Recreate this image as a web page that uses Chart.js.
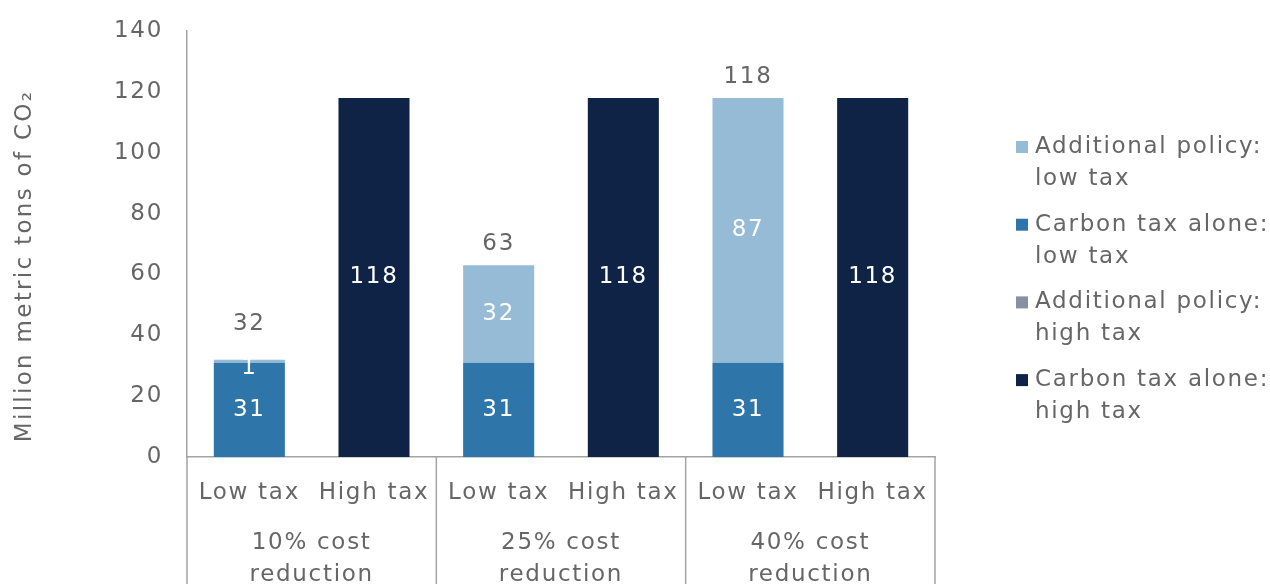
<!DOCTYPE html>
<html>
<head>
<meta charset="utf-8">
<script src="https://cdn.jsdelivr.net/npm/chart.js@4/dist/chart.umd.min.js"></script>
<style>
  html, body { margin: 0; padding: 0; background: #ffffff; }
  #wrap { width: 1270px; height: 584px; overflow: hidden; }
</style>
</head>
<body>
<div id="wrap"><canvas id="chart" width="1270" height="584"></canvas></div>
<script>
// Scenario categories (two tax levels inside each cost-reduction group)
const categories = ['Low tax', 'High tax', 'Low tax', 'High tax', 'Low tax', 'High tax'];
const groupLabels = [['10% cost', 'reduction'], ['25% cost', 'reduction'], ['40% cost', 'reduction']];

// Emission reductions, million metric tons of CO2
const carbonTaxLow    = [31, null, 31, null, 31, null];
const addPolicyLow    = [1, null, 32, null, 87, null];
const carbonTaxHigh   = [null, 118, null, 118, null, 118];
const addPolicyHigh   = [null, 0, null, 0, null, 0];

// Value axis ticks
const yTicks = [0, 20, 40, 60, 80, 100, 120, 140];

// Legend entries in display order
const legendItems = [
  { lines: ['Additional policy:', 'low tax'], color: '#95bbd7' },
  { lines: ['Carbon tax alone:', 'low tax'], color: '#2e75aa' },
  { lines: ['Additional policy:', 'high tax'], color: '#878fa3' },
  { lines: ['Carbon tax alone:', 'high tax'], color: '#0f2346' }
];

const FONT = 'DejaVu Sans';
const FSIZE = 23;
const SPACING = '1.7px';
const TEXT = '#666666';
const LINE = '#a3a3a3';

// totals shown above the low-tax stacks
const totals = categories.map((c, i) =>
  c === 'Low tax' ? (carbonTaxLow[i] || 0) + (addPolicyLow[i] || 0) : null);

const spacingPlugin = {
  id: 'spacing',
  beforeInit(chart) { chart.ctx.letterSpacing = SPACING; },
  beforeLayout(chart) { chart.ctx.letterSpacing = SPACING; },
  beforeDraw(chart) { chart.ctx.letterSpacing = SPACING; }
};

const labelsPlugin = {
  id: 'barLabels',
  afterDatasetsDraw(chart) {
    const ctx = chart.ctx;
    const y = chart.scales.y;
    ctx.save();
    ctx.font = `400 ${FSIZE}px "${FONT}"`;
    ctx.textAlign = 'center';
    ctx.textBaseline = 'middle';
    chart.data.datasets.forEach((ds, di) => {
      const meta = chart.getDatasetMeta(di);
      meta.data.forEach((bar, i) => {
        const v = ds.data[i];
        if (!v) return;
        const top = Math.min(bar.y, bar.base);
        const bottom = Math.max(bar.y, bar.base);
        const cy = Math.max((top + bottom) / 2, top + 8);
        ctx.fillStyle = '#ffffff';
        ctx.fillText(String(v), bar.x, cy);
      });
    });
    // stack totals
    const topMeta = chart.getDatasetMeta(1);
    totals.forEach((t, i) => {
      if (t == null) return;
      const bar = topMeta.data[i];
      const topY = y.getPixelForValue(t);
      const segH = Math.abs(bar.base - bar.y);
      const lift = segH < 16 ? 36 : 21;
      ctx.fillStyle = TEXT;
      ctx.fillText(String(t), bar.x, topY - lift);
    });
    ctx.restore();
  }
};

const framePlugin = {
  id: 'frame',
  afterDraw(chart) {
    const ctx = chart.ctx;
    const x = chart.scales.x;
    const area = chart.chartArea;
    const bottom = chart.height;
    ctx.save();
    // group separators below the axis
    ctx.strokeStyle = LINE;
    ctx.lineWidth = 1.5;
    const bounds = [x.left];
    for (let g = 1; g < groupLabels.length; g++) {
      bounds.push((x.getPixelForValue(g * 2 - 1) + x.getPixelForValue(g * 2)) / 2);
    }
    bounds.push(x.right);
    bounds.forEach(bx => {
      ctx.beginPath();
      ctx.moveTo(bx, area.bottom);
      ctx.lineTo(bx, bottom);
      ctx.stroke();
    });
    // group labels
    ctx.fillStyle = TEXT;
    ctx.font = `400 ${FSIZE}px "${FONT}"`;
    ctx.textAlign = 'center';
    ctx.textBaseline = 'middle';
    groupLabels.forEach((lines, g) => {
      const cx = (x.getPixelForValue(g * 2) + x.getPixelForValue(g * 2 + 1)) / 2;
      lines.forEach((ln, k) => ctx.fillText(ln, cx, area.bottom + 86 + k * 32));
    });
    // value axis title
    ctx.save();
    ctx.letterSpacing = '2.3px';
    ctx.translate(25, 266);
    ctx.rotate(-Math.PI / 2);
    ctx.fillText('Million metric tons of CO\u2082', 0, 0);
    ctx.restore();
    // legend
    ctx.textAlign = 'left';
    legendItems.forEach((it, k) => {
      const y0 = 147 + k * 77.7;
      ctx.fillStyle = it.color;
      ctx.fillRect(1016, y0 - 6, 12, 12);
      ctx.fillStyle = TEXT;
      it.lines.forEach((ln, j) => ctx.fillText(ln, 1035, y0 + j * 32));
    });
    ctx.restore();
  }
};

new Chart(document.getElementById('chart'), {
  type: 'bar',
  data: {
    labels: categories,
    datasets: [
      { label: 'Carbon tax alone: low tax', data: carbonTaxLow, backgroundColor: '#2e75aa' },
      { label: 'Additional policy: low tax', data: addPolicyLow, backgroundColor: '#95bbd7' },
      { label: 'Carbon tax alone: high tax', data: carbonTaxHigh, backgroundColor: '#0f2346' },
      { label: 'Additional policy: high tax', data: addPolicyHigh, backgroundColor: '#878fa3' }
    ]
  },
  options: {
    responsive: false,
    animation: false,
    devicePixelRatio: 1,
    layout: { padding: { left: 0, top: 31, right: 335, bottom: 0 } },
    datasets: { bar: { categoryPercentage: 1, barPercentage: 0.57 } },
    plugins: { legend: { display: false }, tooltip: { enabled: false } },
    scales: {
      x: {
        stacked: true,
        grid: { display: false, drawTicks: false },
        border: { display: true, color: LINE, width: 1.5 },
        ticks: { color: TEXT, font: { family: FONT, size: FSIZE }, padding: 22, maxRotation: 0, autoSkip: false },
        afterFit(s) { s.height = 127; s.paddingLeft = 0; s.paddingRight = 0; }
      },
      y: {
        stacked: true,
        min: 0,
        max: 140,
        afterBuildTicks(s) { s.ticks = yTicks.map(v => ({ value: v })); },
        grid: { display: false, drawTicks: false },
        border: { display: true, color: LINE, width: 1.5 },
        ticks: { color: TEXT, font: { family: FONT, size: FSIZE }, padding: 24 },
        afterFit(s) { s.width = 187; s.paddingTop = 0; s.paddingBottom = 0; }
      }
    }
  },
  plugins: [spacingPlugin, labelsPlugin, framePlugin]
});
</script>
</body>
</html>
